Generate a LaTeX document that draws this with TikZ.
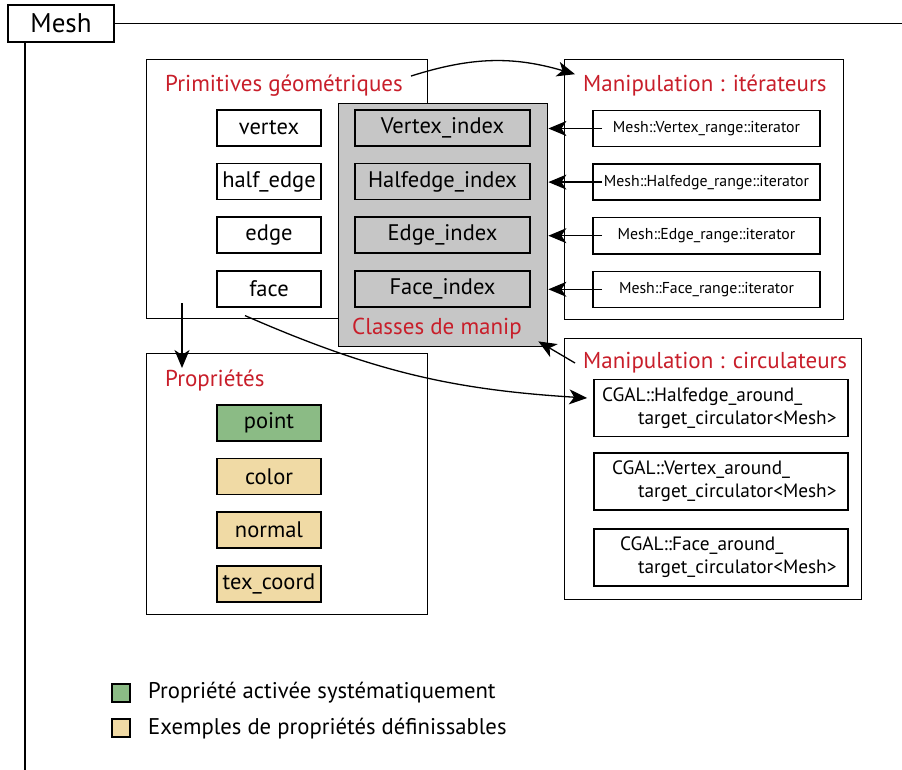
\documentclass[tikz,border=0pt]{standalone}
\usepackage{fontspec}
\setmainfont{PT Sans}
\usetikzlibrary{arrows.meta, positioning}

\definecolor{titlered}{RGB}{200,30,42}
\definecolor{manipgray}{RGB}{198,198,198}
\definecolor{propgreen}{RGB}{139,187,133}
\definecolor{proptan}{RGB}{240,218,165}

\begin{document}
\begin{tikzpicture}[
    x=1pt, y=-1pt,
    node distance = 16pt,
    % --- Node styles ---
    container/.style = {rectangle, draw=black, line width=1.4pt, anchor=north west,
        inner sep=0pt},
    heading/.style = {anchor=west, text=titlered, inner sep=0pt,
        font=\fontsize{23}{27}\selectfont},
    itembox/.style = {rectangle, draw=black, line width=1.6pt, fill=white,
        minimum width=104pt, minimum height=36pt, inner sep=0pt,
        font=\fontsize{22.5}{26}\selectfont},
    indexbox/.style = {itembox, fill=manipgray, minimum width=175pt},
    iterbox/.style = {itembox, minimum width=227pt, font=\fontsize{15.8}{19}\selectfont},
    circbox/.style = {itembox, minimum width=254pt, minimum height=57pt,
        text width=238pt, align=left, font=\fontsize{19.3}{23}\selectfont},
    legendbox/.style = {rectangle, draw=black, line width=1.4pt, minimum size=18pt,
        inner sep=0pt},
    legendtext/.style = {anchor=west, inner sep=0pt, font=\fontsize{22.7}{26}\selectfont},
    % --- Arrow style ---
    arrow/.style = {line width=1.3pt, -{Stealth[length=18pt, width=15pt, inset=5pt]}}
]
\useasboundingbox (0,0) rectangle (902,770);

% ==================== MESH ====================
\node[rectangle, draw=black, line width=1.4pt, minimum width=106pt, minimum height=37pt,
    inner sep=0pt, font=\fontsize{27}{31}\selectfont] (mesh) at (61,23.5) {Mesh};
\coordinate (meshend) at (902,23.5);
\coordinate (meshfoot) at (25,770);
\draw[line width=1.4pt] (mesh.east) -- (meshend);
\draw[line width=1.4pt] (mesh.south -| meshfoot) -- (meshfoot);

% ==================== PRIMITIVES ====================
\node[container, minimum width=281pt, minimum height=259pt] (prim) at (146,59) {};
\node[heading] (primtitle) at (165,86) {Primitives géométriques};

\node[itembox] (vertex) at (269,128) {vertex};
\node[itembox, below=of vertex] (halfedge) {half\_edge};
\node[itembox, below=of halfedge] (edge) {edge};
\node[itembox, below=of edge] (face) {face};

% ==================== CLASSES DE MANIP ====================
\node[container, fill=manipgray, minimum width=209pt, minimum height=243pt] (manip) at (338,103) {};

\node[indexbox] (vidx) at (442.5,128) {Vertex\_index};
\node[indexbox, below=of vidx] (hidx) {Halfedge\_index};
\node[indexbox, below=of hidx] (eidx) {Edge\_index};
\node[indexbox, below=of eidx] (fidx) {Face\_index};

\node[heading, anchor=center] (maniptitle) at (437,329) {Classes de manip};

% ==================== ITERATEURS ====================
\node[container, minimum width=279pt, minimum height=260pt] (iter) at (564,59) {};
\node[heading] (itertitle) at (583,86) {Manipulation : itérateurs};

\node[iterbox] (viter) at (706.5,128.5) {Mesh::Vertex\_range::iterator};
\node[iterbox, below=of viter] (hiter) {Mesh::Halfedge\_range::iterator};
\node[iterbox, below=of hiter] (eiter) {Mesh::Edge\_range::iterator};
\node[iterbox, below=of eiter] (fiter) {Mesh::Face\_range::iterator};

% ==================== CIRCULATEURS ====================
\node[container, minimum width=297pt, minimum height=261pt] (circ) at (564,338) {};
\node[heading] (circtitle) at (583,363) {Manipulation : circulateurs};

\node[circbox] (hcirc) at (721,408) {CGAL::Halfedge\_around\_\\\hspace*{36pt}target\_circulator<Mesh>};
\node[circbox, below=15pt of hcirc] (vcirc) {\hspace*{10pt}CGAL::Vertex\_around\_\\\hspace*{36pt}target\_circulator<Mesh>};
\node[circbox, below=17pt of vcirc] (fcirc) {\hspace*{18pt}CGAL::Face\_around\_\\\hspace*{36pt}target\_circulator<Mesh>};

% ==================== PROPRIETES ====================
\node[container, minimum width=281pt, minimum height=261pt] (props) at (146,353) {};
\node[heading] (propstitle) at (165,381) {Propriétés};

\node[itembox, fill=propgreen] (point) at (269,423) {point};
\node[itembox, fill=proptan, below=of point] (color) {color};
\node[itembox, fill=proptan, below=of color] (normal) {normal};
\node[itembox, fill=proptan, below=of normal] (texcoord) {tex\_coord};

% ==================== LEGENDE ====================
\node[legendbox, fill=propgreen] (leggreen) at (121,693) {};
\node[legendbox, fill=proptan] (legtan) at (121,728) {};
\node[legendtext] (legactive) at (148,693) {Propriété activée systématiquement};
\node[legendtext] (legexamples) at (148,729) {Exemples de propriétés définissables};

% ==================== ARROWS ====================
\draw[arrow] ([xshift=8pt, yshift=-1pt]primtitle.north east) to[bend left=17]
    ([xshift=-8pt, yshift=1pt]itertitle.north west);
\draw[arrow] ([xshift=10pt]viter.west) -- (viter.west -| manip.east);
\draw[arrow] ([xshift=10pt]hiter.west) -- (hiter.west -| manip.east);
\draw[arrow] ([xshift=10pt]eiter.west) -- (eiter.west -| manip.east);
\draw[arrow] ([xshift=10pt]fiter.west) -- (fiter.west -| manip.east);
\draw[arrow] ([xshift=-24pt, yshift=-8pt]face.south) to[bend right=10]
    ([xshift=-6pt, yshift=10pt]hcirc.west);
\draw[arrow] ([xshift=36pt, yshift=16pt]prim.south west) --
    ([xshift=36pt, yshift=-15pt]props.north west);
\draw[arrow] ([xshift=-8pt]circtitle.west) -- ([xshift=-10pt, yshift=6pt]manip.south east);

\end{tikzpicture}
\end{document}
